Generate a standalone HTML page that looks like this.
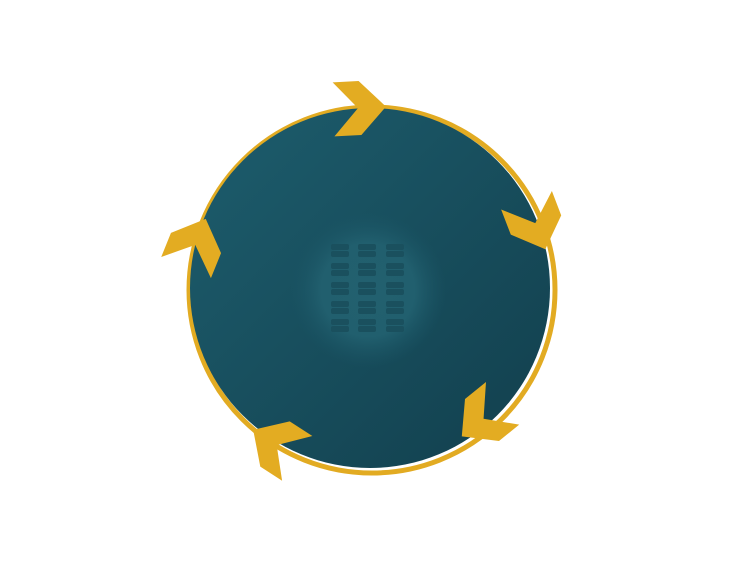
<!DOCTYPE html>
<html><head><style>html,body{margin:0;padding:0;background:#fff;}svg{display:block}</style></head>
<body>
<svg width="740" height="580" viewBox="0 0 740 580" xmlns="http://www.w3.org/2000/svg">
<defs>
<linearGradient id="g" x1="0" y1="0" x2="1" y2="1">
<stop offset="0" stop-color="#1d5d6d"/><stop offset="1" stop-color="#123f4d"/>
</linearGradient>
<radialGradient id="c">
<stop offset="0" stop-color="#22606f"/><stop offset="0.6" stop-color="#215f6e"/><stop offset="1" stop-color="#1a5565" stop-opacity="0"/>
</radialGradient>
<g id="ch"><polygon points="-26,-27 0,-27 26,0 0,27 -27,27 -2,0" fill="#e3ac22"/></g>
<g id="cell"><rect x="0" y="0" width="18" height="6" rx="2" fill="#1a505e"/><rect x="0" y="7" width="18" height="6" rx="2" fill="#1a505e"/></g>
</defs>
<circle cx="372" cy="290" r="183" fill="none" stroke="#e2ab22" stroke-width="5"/>
<circle cx="370" cy="288" r="180" fill="url(#g)"/>
<circle cx="368" cy="290" r="78" fill="url(#c)"/>
<g>
<use href="#cell" x="331" y="244"/><use href="#cell" x="358" y="244"/><use href="#cell" x="386" y="244"/>
<use href="#cell" x="331" y="263"/><use href="#cell" x="358" y="263"/><use href="#cell" x="386" y="263"/>
<use href="#cell" x="331" y="282"/><use href="#cell" x="358" y="282"/><use href="#cell" x="386" y="282"/>
<use href="#cell" x="331" y="301"/><use href="#cell" x="358" y="301"/><use href="#cell" x="386" y="301"/>
<use href="#cell" x="331" y="319"/><use href="#cell" x="358" y="319"/><use href="#cell" x="386" y="319"/>
</g>
<use href="#ch" transform="translate(360,108) rotate(-3)"/>
<use href="#ch" transform="translate(536,225) rotate(69)"/>
<use href="#ch" transform="translate(482,420) rotate(141)"/>
<use href="#ch" transform="translate(275,444) rotate(213)"/>
<use href="#ch" transform="translate(196,243) rotate(292)"/>
</svg>
</body></html>
